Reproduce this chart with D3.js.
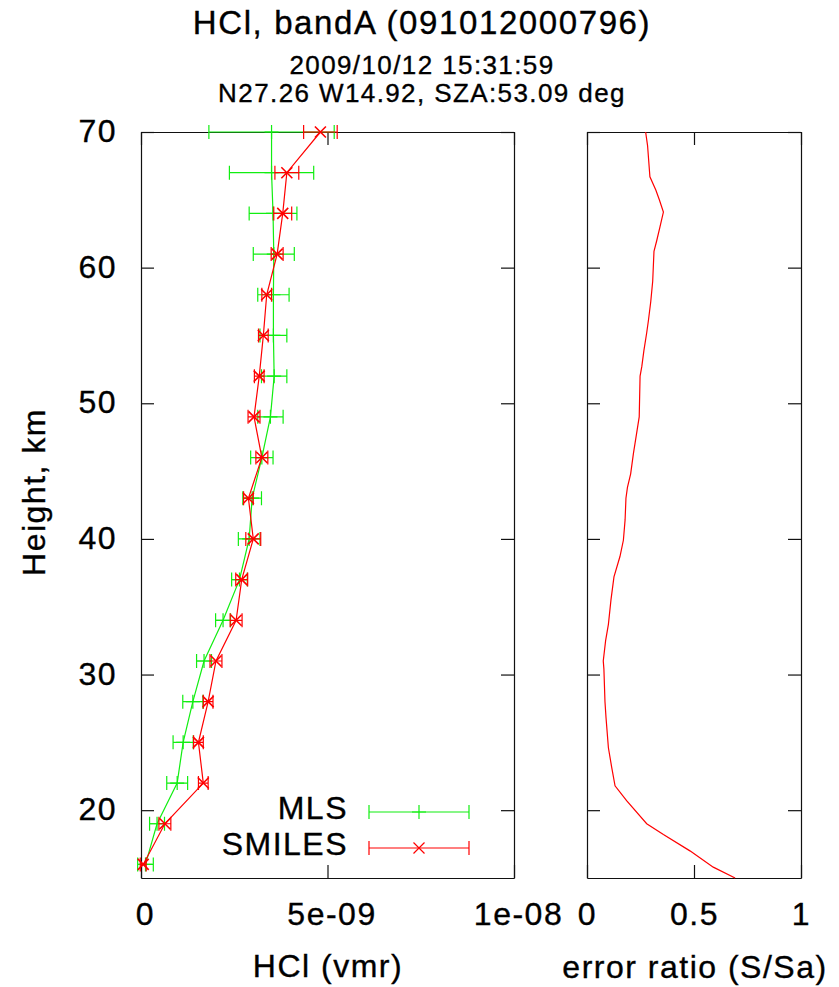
<!DOCTYPE html>
<html>
<head>
<meta charset="utf-8">
<script src="https://cdn.jsdelivr.net/npm/d3@7"></script>
<style>
  body { margin: 0; background: #fff; }
  text { font-family: "Liberation Sans", Arial, sans-serif; fill: #000; stroke: #000; stroke-width: 0.35px; }
</style>
</head>
<body>
<div id="chart"></div>
<script>
// retrieval levels (km)
const heights = [70, 67, 64, 61, 58, 55, 52, 49, 46, 43, 40, 37, 34, 31, 28, 25, 22, 19, 16];

// MLS profile + error (vmr)
const mlsValues = [3.50e-9, 3.50e-9, 3.54e-9, 3.56e-9, 3.55e-9, 3.55e-9, 3.57e-9, 3.47e-9, 3.24e-9, 2.98e-9,
  2.90e-9, 2.64e-9, 2.20e-9, 1.69e-9, 1.39e-9, 1.13e-9, 0.97e-9, 0.43e-9, 0.12e-9];
const mlsErrors = [1.68e-9, 1.13e-9, 0.64e-9, 0.55e-9, 0.42e-9, 0.36e-9, 0.34e-9, 0.34e-9, 0.30e-9, 0.25e-9,
  0.29e-9, 0.21e-9, 0.20e-9, 0.20e-9, 0.27e-9, 0.27e-9, 0.28e-9, 0.20e-9, 0.21e-9];

// SMILES profile + error (vmr)
const smilesValues = [4.81e-9, 3.91e-9, 3.80e-9, 3.65e-9, 3.37e-9, 3.28e-9, 3.17e-9, 3.03e-9, 3.24e-9, 2.88e-9,
  3.01e-9, 2.70e-9, 2.55e-9, 2.01e-9, 1.80e-9, 1.54e-9, 1.67e-9, 0.64e-9, 0.06e-9];
const smilesErrors = [0.45e-9, 0.32e-9, 0.24e-9, 0.16e-9, 0.13e-9, 0.13e-9, 0.13e-9, 0.16e-9, 0.16e-9, 0.13e-9,
  0.20e-9, 0.16e-9, 0.16e-9, 0.16e-9, 0.13e-9, 0.13e-9, 0.13e-9, 0.16e-9, 0.08e-9];

// error ratio S/Sa
const ratioHeights = [70, 69, 66.7, 65.7, 65, 64.1, 63, 62, 61.2, 59, 57.5, 56.1, 55.2, 53.9, 52.7, 52, 49, 47.8,
  46.3, 44.8, 43.8, 43, 41.4, 39.9, 38.7, 37.2, 35.5, 33.7, 32.5, 31, 30.4, 28, 26.8, 24.6, 23.2, 21.8, 20.7,
  19, 18.2, 17, 15.8, 15];
const ratioValues = [0.274, 0.283, 0.294, 0.322, 0.338, 0.357, 0.341, 0.326, 0.313, 0.307, 0.298, 0.287, 0.279,
  0.266, 0.256, 0.248, 0.244, 0.232, 0.217, 0.204, 0.189, 0.182, 0.178, 0.170, 0.154, 0.126, 0.112, 0.100,
  0.087, 0.076, 0.079, 0.084, 0.089, 0.100, 0.115, 0.131, 0.185, 0.279, 0.357, 0.481, 0.590, 0.692];

const heightTicks = [20, 30, 40, 50, 60, 70];
const vmrTicks = [0, 5e-9, 1e-8];
const vmrTickLabels = ["0", "5e-09", "1e-08"];
const ratioTicks = [0, 0.5, 1];
const ratioTickLabels = ["0", "0.5", "1"];

const titleLines = ["HCl, bandA (091012000796)", "2009/10/12 15:31:59", "N27.26 W14.92, SZA:53.09 deg"];
const seriesNames = ["MLS", "SMILES"];

const width = 839;
const height = 987;
const green = "#11ee11";
const red = "#ff0000";

const svg = d3.select("#chart").append("svg")
  .attr("width", width)
  .attr("height", height);

const y = d3.scaleLinear().domain([15, 70]).range([878, 132]);
const x = d3.scaleLinear().domain([0, 1e-8]).range([141, 514]);
const x2 = d3.scaleLinear().domain([0, 1]).range([587, 801]);

// title block
svg.selectAll(".title")
  .data(titleLines)
  .enter()
  .append("text")
  .attr("class", "title")
  .attr("text-anchor", "middle")
  .attr("x", 422)
  .attr("y", (d, i) => [34, 74, 102][i])
  .attr("font-size", (d, i) => (i === 0 ? 33 : 26))
  .attr("letter-spacing", (d, i) => (i === 0 ? 1.6 : 1.4))
  .text(d => d);

function styleAxis(g) {
  g.attr("font-size", 32)
    .attr("font-family", "'Liberation Sans', Arial, sans-serif")
    .attr("color", "#111");
  g.selectAll("path, line").attr("stroke-width", 1.2);
  g.selectAll("text").attr("letter-spacing", 1.5);
}

function frame(xs, ticks, labels, withYLabels, labelShift) {
  const [x0, x1] = xs.range();
  svg.append("g")
    .attr("transform", `translate(0,${y.range()[0]})`)
    .call(d3.axisBottom(xs).tickValues(ticks).tickFormat((d, i) => labels[i])
      .tickSize(-13).tickSizeOuter(0).tickPadding(24))
    .call(styleAxis)
    .selectAll("text").attr("dx", labelShift);
  svg.append("g")
    .attr("transform", `translate(0,${y.range()[1]})`)
    .call(d3.axisTop(xs).tickValues(ticks).tickFormat("")
      .tickSize(-13).tickSizeOuter(0))
    .call(styleAxis);
  svg.append("g")
    .attr("transform", `translate(${x0},0)`)
    .call(d3.axisLeft(y).tickValues(heightTicks).tickFormat(withYLabels ? d3.format("d") : "")
      .tickSize(-13).tickSizeOuter(0).tickPadding(24))
    .call(styleAxis)
    .selectAll("text").attr("dy", "0.3em");
  svg.append("g")
    .attr("transform", `translate(${x1},0)`)
    .call(d3.axisRight(y).tickValues(heightTicks).tickFormat("")
      .tickSize(-13).tickSizeOuter(0))
    .call(styleAxis);
}

frame(x, vmrTicks, vmrTickLabels, true, 4);
frame(x2, ratioTicks, ratioTickLabels, false, 0);

// axis titles
svg.append("text")
  .attr("text-anchor", "middle")
  .attr("font-size", 32)
  .attr("letter-spacing", 1.5)
  .attr("transform", "translate(45,492) rotate(-90)")
  .text("Height, km");

svg.append("text")
  .attr("text-anchor", "middle")
  .attr("font-size", 32)
  .attr("letter-spacing", 1.5)
  .attr("x", 328)
  .attr("y", 977)
  .text("HCl (vmr)");

svg.append("text")
  .attr("text-anchor", "middle")
  .attr("font-size", 32)
  .attr("letter-spacing", 1.5)
  .attr("x", 695)
  .attr("y", 978)
  .text("error ratio (S/Sa)");

// markers
function plusPath(cx, cy, s) {
  return `M${cx - s},${cy}H${cx + s}M${cx},${cy - s}V${cy + s}`;
}
function crossPath(cx, cy, s) {
  return `M${cx - s},${cy - s}L${cx + s},${cy + s}M${cx - s},${cy + s}L${cx + s},${cy - s}`;
}

const series = [
  { name: seriesNames[0], color: green, marker: plusPath, size: 7,
    points: heights.map((h, i) => ({ h: h, v: mlsValues[i], e: mlsErrors[i] })) },
  { name: seriesNames[1], color: red, marker: crossPath, size: 5.5,
    points: heights.map((h, i) => ({ h: h, v: smilesValues[i], e: smilesErrors[i] })) }
];

const cap = 7;

series.forEach((s, k) => {
  const g = svg.append("g")
    .attr("fill", "none")
    .attr("stroke", s.color)
    .attr("stroke-width", 1.2);

  g.append("path")
    .datum(s.points)
    .attr("d", d3.line().x(d => x(d.v)).y(d => y(d.h)));

  g.selectAll(".bar")
    .data(s.points)
    .enter()
    .append("path")
    .attr("class", "bar")
    .attr("d", d => {
      const a = x(d.v - d.e), b = x(d.v + d.e), yy = y(d.h);
      return `M${a},${yy}H${b}M${a},${yy - cap}V${yy + cap}M${b},${yy - cap}V${yy + cap}`;
    });

  g.selectAll(".mark")
    .data(s.points)
    .enter()
    .append("path")
    .attr("class", "mark")
    .attr("stroke-width", k === 1 ? 1.6 : 1.2)
    .attr("d", d => s.marker(x(d.v), y(d.h), s.size));

  // key entry
  const ly = [812, 848][k];
  const lx0 = 369, lx1 = 469;
  svg.append("text")
    .attr("text-anchor", "end")
    .attr("font-size", 32)
    .attr("letter-spacing", 1.5)
    .attr("x", 348)
    .attr("y", ly + 7)
    .text(s.name);
  g.append("path")
    .attr("d", `M${lx0},${ly}H${lx1}M${lx0},${ly - cap}V${ly + cap}M${lx1},${ly - cap}V${ly + cap}`);
  g.append("path")
    .attr("d", s.marker((lx0 + lx1) / 2, ly, s.size));
});

// error ratio profile
svg.append("path")
  .datum(ratioHeights.map((h, i) => ({ h: h, r: ratioValues[i] })))
  .attr("fill", "none")
  .attr("stroke", red)
  .attr("stroke-width", 1.2)
  .attr("d", d3.line().x(d => x2(d.r)).y(d => y(d.h)));
</script>
</body>
</html>
